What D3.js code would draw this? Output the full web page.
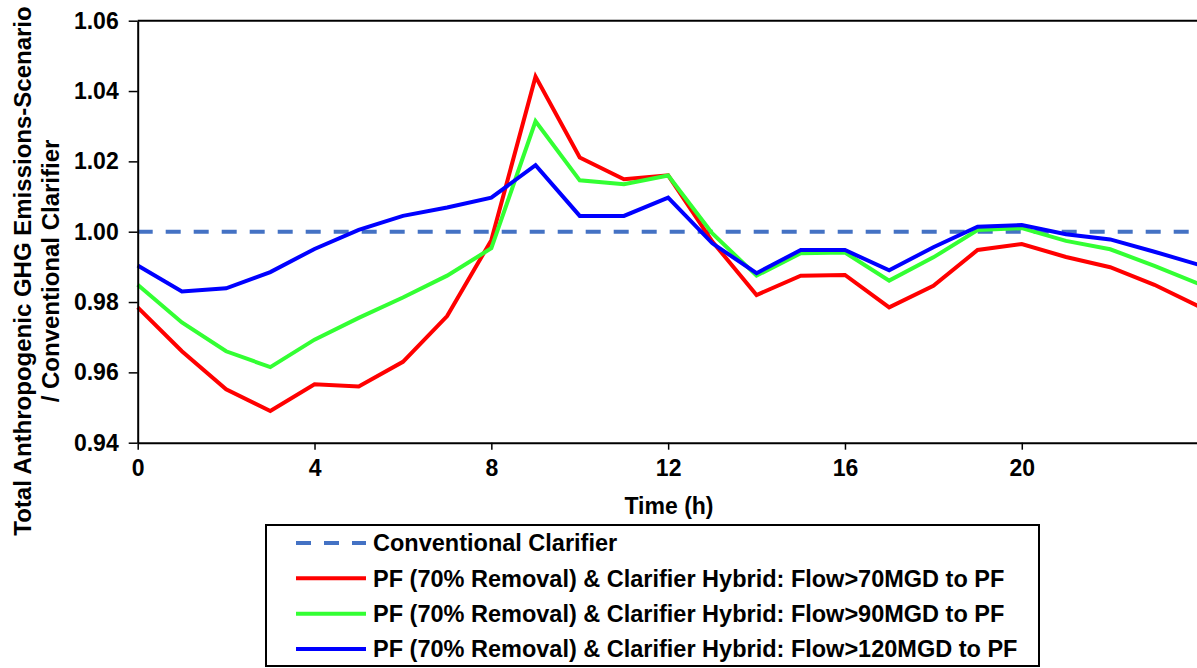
<!DOCTYPE html>
<html>
<head>
<meta charset="utf-8">
<script src="https://cdn.jsdelivr.net/npm/d3@7"></script>
<style>
  html, body { margin: 0; padding: 0; background: #fff; }
  svg { display: block; }
  text { font-family: "Liberation Sans", Arial, sans-serif; font-weight: bold; fill: #000; }
</style>
</head>
<body>
<svg id="chart" width="1197" height="668"></svg>
<script>
// Hourly ratio of total anthropogenic GHG emissions (scenario / conventional clarifier)
const hours = [0,1,2,3,4,5,6,7,8,9,10,11,12,13,14,15,16,17,18,19,20,21,22,23,24];
const conventional = [1,1,1,1,1,1,1,1,1,1,1,1,1,1,1,1,1,1,1,1,1,1,1,1,1];
const flow70 = [0.9785,0.9660,0.9552,0.9490,0.9566,0.9560,0.9630,0.9760,0.9976,1.0441,1.0211,1.0149,1.0160,0.9972,0.9820,0.9875,0.9877,0.9785,0.9846,0.9948,0.9965,0.9928,0.9899,0.9849,0.9788];
const flow90 = [0.9849,0.9742,0.9660,0.9615,0.9693,0.9755,0.9813,0.9875,0.9953,1.0314,1.0146,1.0135,1.0160,0.9995,0.9875,0.9939,0.9941,0.9861,0.9927,1.0005,1.0010,0.9974,0.9950,0.9903,0.9852];
const flow120 = [0.9904,0.9830,0.9839,0.9885,0.9951,1.0005,1.0045,1.0069,1.0097,1.0189,1.0045,1.0045,1.0097,0.9967,0.9882,0.9948,0.9948,0.9890,0.9956,1.0014,1.0019,0.9993,0.9978,0.9943,0.9906];

const xTicks = [0,4,8,12,16,20];
const yTicks = [0.94,0.96,0.98,1.00,1.02,1.04,1.06];

const seriesNames = [
  "Conventional Clarifier",
  "PF (70% Removal) & Clarifier Hybrid: Flow>70MGD to PF",
  "PF (70% Removal) & Clarifier Hybrid: Flow>90MGD to PF",
  "PF (70% Removal) & Clarifier Hybrid: Flow>120MGD to PF"
];
const seriesValues = [conventional, flow70, flow90, flow120];
const seriesColors = ["#4472C4", "#FF0000", "#33FF33", "#0000FF"];
const seriesDash = ["15,13", null, null, null];

const svg = d3.select("#chart");
const plot = { left: 137.7, right: 1198.6, top: 20.7, bottom: 442.7 };

const x = d3.scaleLinear().domain([0, 24]).range([plot.left, plot.right]);
const y = d3.scaleLinear().domain([0.94, 1.06]).range([plot.bottom, plot.top]);

// Series lines (drawn first so axes sit on top)
const line = d3.line().x((d, i) => x(hours[i])).y(d => y(d));
seriesValues.forEach((vals, k) => {
  svg.append("path")
    .datum(vals)
    .attr("fill", "none")
    .attr("stroke", seriesColors[k])
    .attr("stroke-width", 4)
    .attr("stroke-linejoin", "miter")
    .attr("stroke-dasharray", seriesDash[k])
    .attr("d", line);
});

// Plot frame (top border; the right edge falls outside the page)
svg.append("line")
  .attr("x1", plot.left).attr("x2", plot.right)
  .attr("y1", plot.top).attr("y2", plot.top)
  .attr("stroke", "#000").attr("stroke-width", 2);

// Axes
const xAxis = d3.axisBottom(x).tickValues(xTicks).tickFormat(d3.format("d")).tickSize(7).tickSizeOuter(0).tickPadding(10);
const gx = svg.append("g").attr("transform", `translate(0,${plot.bottom})`).call(xAxis);
gx.select(".domain").attr("stroke", "#000").attr("stroke-width", 2);
gx.selectAll(".tick line").attr("stroke", "#000").attr("stroke-width", 1.5);
gx.selectAll(".tick text").style("font-size", "23px").style("font-family", "Liberation Sans, Arial, sans-serif").style("font-weight", "bold");

const yAxis = d3.axisLeft(y).tickValues(yTicks).tickFormat(d3.format(".2f")).tickSize(9).tickSizeOuter(0).tickPadding(10);
const gy = svg.append("g").attr("transform", `translate(${plot.left},0)`).call(yAxis);
gy.select(".domain").attr("stroke", "#000").attr("stroke-width", 2);
gy.selectAll(".tick line").attr("stroke", "#000").attr("stroke-width", 1.5);
gy.selectAll(".tick text").style("font-size", "23px").style("font-family", "Liberation Sans, Arial, sans-serif").style("font-weight", "bold");

// Axis titles
svg.append("text")
  .attr("x", 669).attr("y", 514)
  .attr("text-anchor", "middle")
  .style("font-size", "23px")
  .text("Time (h)");

const yTitle = svg.append("text")
  .attr("transform", "translate(31,271) rotate(-90)")
  .attr("text-anchor", "middle")
  .style("font-size", "24px");
yTitle.append("tspan").attr("x", 0).attr("y", 0).text("Total Anthropogenic GHG Emissions-Scenario");
yTitle.append("tspan").attr("x", 0).attr("y", 28).text("/ Conventional Clarifier");

// Legend
const legend = svg.append("g");
legend.append("rect")
  .attr("x", 266).attr("y", 525)
  .attr("width", 773).attr("height", 141)
  .attr("fill", "#fff").attr("stroke", "#000").attr("stroke-width", 2);

const rowY = d3.scalePoint().domain(d3.range(seriesNames.length)).range([543, 649]);
seriesNames.forEach((name, k) => {
  const yy = rowY(k);
  legend.append("line")
    .attr("x1", 296).attr("x2", 366)
    .attr("y1", yy).attr("y2", yy)
    .attr("stroke", seriesColors[k])
    .attr("stroke-width", 4)
    .attr("stroke-dasharray", seriesDash[k]);
  legend.append("text")
    .attr("x", 373).attr("y", yy)
    .attr("dy", "0.36em")
    .style("font-size", "23.5px")
    .text(name);
});
</script>
</body>
</html>
